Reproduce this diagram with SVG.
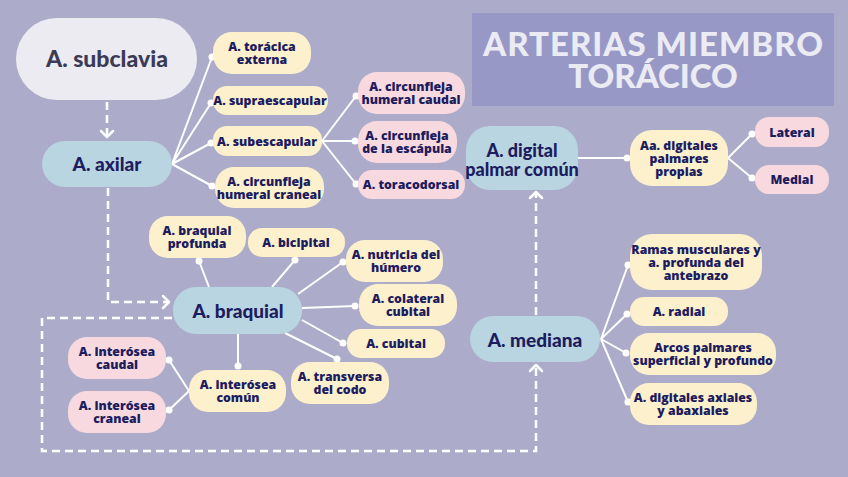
<svg xmlns="http://www.w3.org/2000/svg" width="848" height="477" viewBox="0 0 848 477">
<defs>
<style>
.bg{fill:#acacca}
.y{fill:#fdf0cd}
.p{fill:#f7d9df}
.b{fill:#b9d5e1}
.t{font-family:"Open Sans",Lato,sans-serif;font-weight:800;fill:#1c1c5e;text-anchor:middle;font-size:12.3px}
.tb{font-family:Lato,"Noto Sans",sans-serif;font-weight:900;fill:#1c1c5e;text-anchor:middle;font-size:19px}
.ln{stroke:#fff;stroke-width:2;fill:none}
.dot{fill:#fff}
.ds{stroke:#fff;stroke-width:2.5;fill:none;stroke-dasharray:8 5}
.ah{stroke:#fff;stroke-width:2.5;fill:none;stroke-linecap:round;stroke-linejoin:round}
</style>
</defs>
<rect class="bg" x="0" y="0" width="848" height="477"/>

<g id="title">
<rect x="472" y="13" width="362" height="93" fill="#9898c6"/>
<text x="653" y="56" font-family="Lato,'Noto Sans',sans-serif" font-weight="900" font-size="33" fill="#ebebf4" text-anchor="middle" textLength="340" lengthAdjust="spacing">ARTERIAS MIEMBRO</text>
<text x="653" y="88" font-family="Lato,'Noto Sans',sans-serif" font-weight="900" font-size="33" fill="#ebebf4" text-anchor="middle">TORÁCICO</text>
</g>

<g id="connectors">
<path class="ds" d="M107,102 V136"/>
<polyline class="ah" points="101,131 107,137 113,131"/>
<path class="ds" d="M108,188 V302 H168"/>
<polyline class="ah" points="163,296 169,302 163,308"/>
<path class="ds" d="M172,318 H42 V451 H536 V367"/>
<polyline class="ah" points="530,371 536,365 542,371"/>
<path class="ds" d="M536,315 V194"/>
<polyline class="ah" points="530,198 536,192 542,198"/>
<path class="ln" d="M172,164 L212,57 M172,164 L211,103 M172,164 L211,143 M172,164 L212,186"/>
<path class="ln" d="M322,141 L356,96 M322,141 L355,141 M322,141 L356,184"/>
<path class="ln" d="M578,158 L627,158 M728,158 L752,134 M728,158 L752,178"/>
<path class="ln" d="M209,287 L199,261 M272,287 L295,260 M298,294 L343,262 M302,308 L355,306 M302,320 L343,343 M285,333 L337,359 M238,334 L238,366 M189,391 L169,360 M189,391 L169,410"/>
<path class="ln" d="M601,339 L628,265 M601,339 L627,314 M601,339 L626,353 M601,339 L628,402"/>
<g class="dot">
<circle cx="212" cy="57" r="3.5"/><circle cx="211" cy="103" r="3.5"/><circle cx="211" cy="143" r="3.5"/><circle cx="212" cy="186" r="3.5"/>
<circle cx="356" cy="96" r="3.5"/><circle cx="355" cy="141" r="3.5"/><circle cx="356" cy="184" r="3.5"/>
<circle cx="627" cy="158" r="3.5"/><circle cx="752" cy="134" r="3.5"/><circle cx="752" cy="178" r="3.5"/>
<circle cx="199" cy="261" r="3.5"/><circle cx="295" cy="260" r="3.5"/><circle cx="343" cy="262" r="3.5"/><circle cx="355" cy="306" r="3.5"/><circle cx="343" cy="343" r="3.5"/><circle cx="337" cy="359" r="3.5"/><circle cx="238" cy="366" r="3.5"/><circle cx="169" cy="360" r="3.5"/><circle cx="169" cy="410" r="3.5"/>
<circle cx="628" cy="265" r="3.5"/><circle cx="627" cy="314" r="3.5"/><circle cx="626" cy="353" r="3.5"/><circle cx="628" cy="402" r="3.5"/>
</g>
</g>

<g id="subclavia">
<rect x="16" y="18" width="181" height="82" rx="41" fill="#ebebf1"/>
<text x="107" y="67" font-family="Lato,'Noto Sans',sans-serif" font-weight="900" font-size="23" fill="#3b3b56" text-anchor="middle">A. subclavia</text>
</g>

<g id="axilar">
<rect class="b" x="42" y="141" width="130" height="46" rx="23"/>
<text class="tb" x="107" y="171">A. axilar</text>
</g>

<g id="toracica-externa">
<rect class="y" x="213" y="32" width="98" height="42" rx="19"/>
<text class="t" x="262" y="51">A. torácica</text>
<text class="t" x="262" y="64">externa</text>
</g>
<g id="supraescapular">
<rect class="y" x="213" y="86" width="115" height="29" rx="14"/>
<text class="t" x="270" y="105">A. supraescapular</text>
</g>
<g id="subescapular">
<rect class="y" x="213" y="126" width="109" height="30" rx="14"/>
<text class="t" x="267" y="146">A. subescapular</text>
</g>
<g id="circ-humeral-craneal">
<rect class="y" x="215" y="167" width="109" height="41" rx="19"/>
<text class="t" x="269" y="186">A. circunfleja</text>
<text class="t" x="269" y="199">humeral craneal</text>
</g>

<g id="circ-humeral-caudal">
<rect class="p" x="358" y="72" width="107" height="42" rx="19"/>
<text class="t" x="411" y="91">A. circunfleja</text>
<text class="t" x="411" y="104">humeral caudal</text>
</g>
<g id="circ-escapula">
<rect class="p" x="358" y="121" width="99" height="42" rx="19"/>
<text class="t" x="407" y="140">A. circunfleja</text>
<text class="t" x="407" y="153">de la escápula</text>
</g>
<g id="toracodorsal">
<rect class="p" x="358" y="170" width="107" height="29" rx="14"/>
<text class="t" x="411" y="189">A. toracodorsal</text>
</g>

<g id="digital-palmar-comun">
<rect class="b" x="466" y="126" width="112" height="64" rx="24"/>
<text class="tb" x="522" y="157" style="font-size:18px">A. digital</text>
<text class="tb" x="522" y="176" style="font-size:18px">palmar común</text>
</g>
<g id="digitales-palmares-propias">
<rect class="y" x="630" y="130" width="98" height="56" rx="22"/>
<text class="t" x="679" y="150">Aa. digitales</text>
<text class="t" x="679" y="163">palmares</text>
<text class="t" x="679" y="176">propias</text>
</g>
<g id="lateral">
<rect class="p" x="755" y="117" width="74" height="30" rx="14"/>
<text class="t" x="792" y="137">Lateral</text>
</g>
<g id="medial">
<rect class="p" x="755" y="165" width="74" height="29" rx="14"/>
<text class="t" x="792" y="184">Medial</text>
</g>

<g id="braquial">
<rect class="b" x="173" y="287" width="129" height="47" rx="23"/>
<text class="tb" x="238" y="318">A. braquial</text>
</g>
<g id="braquial-profunda">
<rect class="y" x="149" y="216" width="97" height="42" rx="19"/>
<text class="t" x="197" y="235">A. braquial</text>
<text class="t" x="197" y="248">profunda</text>
</g>
<g id="bicipital">
<rect class="y" x="248" y="228" width="97" height="29" rx="14"/>
<text class="t" x="296" y="247">A. bicipital</text>
</g>
<g id="nutricia-humero">
<rect class="y" x="346" y="240" width="97" height="42" rx="19"/>
<text class="t" x="396" y="259">A. nutricia del</text>
<text class="t" x="396" y="272">húmero</text>
</g>
<g id="colateral-cubital">
<rect class="y" x="359" y="284" width="98" height="42" rx="19"/>
<text class="t" x="408" y="303">A. colateral</text>
<text class="t" x="408" y="316">cubital</text>
</g>
<g id="cubital">
<rect class="y" x="347" y="329" width="98" height="29" rx="14"/>
<text class="t" x="396" y="348">A. cubital</text>
</g>
<g id="transversa-codo">
<rect class="y" x="291" y="362" width="98" height="42" rx="19"/>
<text class="t" x="340" y="381">A. transversa</text>
<text class="t" x="340" y="394">del codo</text>
</g>
<g id="interosea-comun">
<rect class="y" x="189" y="370" width="97" height="42" rx="19"/>
<text class="t" x="238" y="389">A. interósea</text>
<text class="t" x="238" y="402">común</text>
</g>
<g id="interosea-caudal">
<rect class="p" x="68" y="337" width="98" height="42" rx="19"/>
<text class="t" x="117" y="356">A. interósea</text>
<text class="t" x="117" y="369">caudal</text>
</g>
<g id="interosea-craneal">
<rect class="p" x="68" y="391" width="98" height="42" rx="19"/>
<text class="t" x="117" y="410">A. interósea</text>
<text class="t" x="117" y="423">craneal</text>
</g>

<g id="mediana">
<rect class="b" x="470" y="316" width="130" height="46" rx="23"/>
<text class="tb" x="535" y="347">A. mediana</text>
</g>
<g id="ramas-musculares">
<rect class="y" x="630" y="234" width="132" height="56" rx="22"/>
<text class="t" x="696" y="254">Ramas musculares y</text>
<text class="t" x="696" y="267">a. profunda del</text>
<text class="t" x="696" y="280">antebrazo</text>
</g>
<g id="radial">
<rect class="y" x="630" y="297" width="98" height="29" rx="14"/>
<text class="t" x="679" y="316">A. radial</text>
</g>
<g id="arcos-palmares">
<rect class="y" x="630" y="333" width="146" height="42" rx="19"/>
<text class="t" x="703" y="352">Arcos palmares</text>
<text class="t" x="703" y="365">superficial y profundo</text>
</g>
<g id="digitales-axiales">
<rect class="y" x="630" y="383" width="127" height="42" rx="19"/>
<text class="t" x="693" y="402">A. digitales axiales</text>
<text class="t" x="693" y="415">y abaxiales</text>
</g>
</svg>
